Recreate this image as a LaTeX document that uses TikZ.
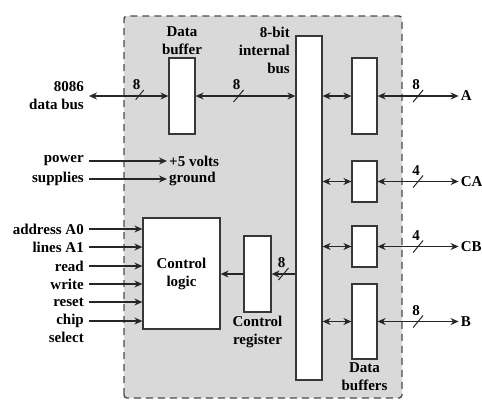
\documentclass[tikz,border=0pt]{standalone}
\usepackage{fontspec}
\setmainfont{Liberation Serif}
\usetikzlibrary{arrows.meta,positioning,calc}
\definecolor{shade}{RGB}{217,217,217}
\definecolor{edge}{RGB}{55,55,55}
\tikzset{
  >={Stealth[length=8pt,width=7pt]},
  lbl/.style={font=\fontsize{15}{18}\selectfont\bfseries,inner sep=2pt,align=center,text=black},
  reg/.style={draw=edge,fill=white,line width=1.2pt,minimum width=#1,inner sep=0pt},
  reg/.default=26pt,
  wire/.style={line width=1.3pt,draw=black!85},
  % bus width mark
  pics/bits/.style={code={
    \draw[-,line width=1pt] (-5,6) -- (5,-6);
    \node[lbl] at (-2,-11) {#1};
  }},
}

\begin{document}
\begin{tikzpicture}[x=1pt,y=-1pt]
  \useasboundingbox (0,0) rectangle (482,400);
  % chip outline
  \draw[fill=shade,draw=black!70,line width=1.4pt,dash pattern=on 7pt off 5pt,rounded corners=3pt]
    (124,398) -- (124,16) -- (402,16) -- (402,398) -- cycle;

  % registers
  \node[reg,minimum height=76pt] (dbuf) at (182,96) {};
  \node[reg,minimum height=344pt] (bus) at (309,208) {};
  \node[reg=25pt,minimum height=76pt] (pa) at (364.5,96) {};
  \node[reg=25pt,minimum height=41pt] (pca) at (364.5,181.5) {};
  \node[reg=25pt,minimum height=41pt] (pcb) at (364.5,246.5) {};
  \node[reg=25pt,minimum height=75pt] (pb) at (364.5,321.5) {};
  \node[reg=77pt,minimum height=111pt,lbl] (clog) at (181.5,273.5) {Control\\logic};
  \node[reg=27pt,minimum height=76pt] (creg) at (257.5,274) {};

  % captions
  \node[lbl,above=1pt of dbuf] (dbt) {Data\\buffer};
  \node[lbl,anchor=east,align=right] (bust) at (292,50) {8-bit\\internal\\bus};
  \node[lbl,below=1pt of creg] (cregt) {Control\\register};
  \node[lbl,below=1pt of pb] (pbt) {Data\\buffers};

  % system side
  \node[lbl,anchor=east,align=right] (ext) at (86,96) {8086\\data bus};
  \draw[wire,<->,shorten <=3pt] (ext.east) -- pic[pos=.64]{bits=8} (dbuf.west |- ext.east);
  \draw[wire,<->] (dbuf.east) -- pic[pos=.43]{bits=8} (bus.west |- dbuf.east);

  \node[lbl,anchor=east] (pw) at (86,161) {power};
  \node[lbl,anchor=west] (v5) at (167,161) {+5 volts};
  \node[lbl,anchor=east] (sup) at (86,179) {supplies};
  \node[lbl,anchor=west] (gnd) at (167,179) {ground};
  \draw[wire,->,shorten <=3pt] (pw) -- (v5);
  \draw[wire,->,shorten <=3pt] (sup) -- (gnd);

  \foreach \y/\t [count=\i] in {229/address A0,247/lines A1,266/read,284/write,302/reset,321/chip} {
    \node[lbl,anchor=east] (sig\i) at (86,\y) {\t};
    \draw[wire,->,shorten <=3pt] (sig\i) -- (sig\i -| clog.west);
  }
  \node[lbl,anchor=north east] (sel) at (sig6.south east) {select};

  \draw[wire,->] (bus.west |- creg.east) -- pic[pos=.5]{bits=8} (creg.east);
  \draw[wire,->] (creg.west) -- (creg.west -| clog.east);

  % ports
  \foreach \b/\w/\t in {pa/8/A,pca/4/CA,pcb/4/CB,pb/8/B} {
    \draw[wire,<->] (bus.east |- \b.west) -- (\b.west);
    \node[lbl,anchor=west] (\b t) at ($(\b.east)+(81,0)$) {\t};
    \draw[wire,<->] (\b.east) -- pic[pos=.5]{bits=\w} (\b t.west);
  }
\end{tikzpicture}
\end{document}
